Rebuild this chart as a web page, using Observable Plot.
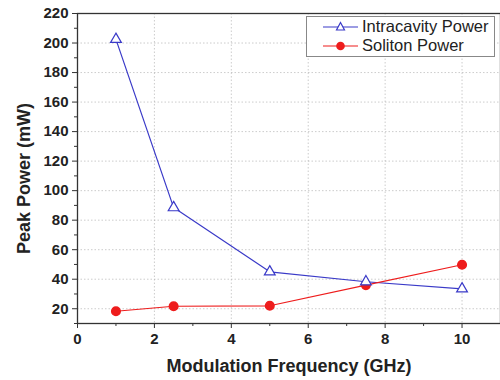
<!DOCTYPE html>
<html><head><meta charset="utf-8">
<script src="https://cdn.jsdelivr.net/npm/d3@7"></script>
<script src="https://cdn.jsdelivr.net/npm/@observablehq/plot@0.6"></script>
<style>
html,body{margin:0;padding:0;background:#fff;}
#wrap{position:relative;width:500px;height:380px;font-family:"Liberation Sans",Arial,sans-serif;}
#wrap svg [aria-label$="axis label"] text{font-size:18px;}
#legend{position:absolute;left:306px;top:16px;width:189px;height:41px;border:1px solid #888;background:#fff;box-sizing:border-box;font-size:16.5px;color:#222;}
#legend .row{display:flex;align-items:center;height:19px;padding-left:16px;}
#legend svg{margin-right:4px;}
</style></head>
<body><div id="wrap"><div id="legend"></div></div>
<script>
const freq = [1, 2.5, 5, 7.5, 10];
const intracavity = [202.5, 88.5, 45, 38.3, 33.5];
const soliton = [18.3, 21.7, 22, 36, 49.8];
const seriesNames = ["Intracavity Power", "Soliton Power"];
const xTicks = [0, 2, 4, 6, 8, 10];
const xMinor = [1, 3, 5, 7, 9];
const yTicks = [20, 40, 60, 80, 100, 120, 140, 160, 180, 200, 220];
const yMinor = [10, 30, 50, 70, 90, 110, 130, 150, 170, 190, 210];

const blue = "#3a3ac8", red = "#ee1c1c";
const dIntra = freq.map((x, i) => ({x, y: intracavity[i]}));
const dSol = freq.map((x, i) => ({x, y: soliton[i]}));

const chart = Plot.plot({
  width: 500, height: 380,
  marginLeft: 77, marginRight: 0, marginTop: 13, marginBottom: 57,
  style: {fontFamily: "'Liberation Sans', Arial, sans-serif", background: "white"},
  x: {domain: [0, 11]},
  y: {domain: [10, 220]},
  marks: [
    Plot.gridX(xTicks, {stroke: "#aaa", strokeOpacity: 0.6, strokeDasharray: "1.5,2"}),
    Plot.gridY(yTicks, {stroke: "#aaa", strokeOpacity: 0.6, strokeDasharray: "1.5,2"}),
    Plot.axisX(xMinor, {tickSize: 3, tickFormat: () => "", stroke: "#333", label: null}),
    Plot.axisY(yMinor, {tickSize: 3, tickFormat: () => "", stroke: "#333", label: null}),
    Plot.axisX(xTicks, {tickSize: 5, tickPadding: 5, fontSize: 15, fontWeight: "bold", stroke: "#333", fill: "#222",
      label: "Modulation Frequency (GHz)", labelAnchor: "center", labelArrow: "none", labelOffset: 48}),
    Plot.axisY(yTicks, {tickSize: 5, tickPadding: 4, fontSize: 15, fontWeight: "bold", stroke: "#333", fill: "#222",
      label: "Peak Power (mW)", labelAnchor: "center", labelArrow: "none", labelOffset: 60}),
    Plot.frame({stroke: "#333", strokeWidth: 1.3}),
    Plot.line(dIntra, {x: "x", y: "y", stroke: blue, strokeWidth: 1.2}),
    Plot.line(dSol, {x: "x", y: "y", stroke: red, strokeWidth: 1.2}),
    Plot.dot(dSol, {x: "x", y: "y", r: 4.3, fill: red, stroke: red, symbol: "circle"}),
    Plot.dot(dIntra, {x: "x", y: "y", r: 4, fill: "white", stroke: blue, strokeWidth: 1.2, symbol: "triangle"})
  ]
});
document.getElementById("wrap").prepend(chart);
const yl = chart.querySelector('[aria-label="y-axis label"] text');
if (yl) yl.setAttribute("dx", "-10");

const legend = document.getElementById("legend");
const sw = (c, kind) => kind === "tri"
  ? `<svg width="35" height="14"><line x1="0" y1="7" x2="35" y2="7" stroke="${c}" stroke-width="1.2"/><path d="M17.5,2.5 L21.5,10 L13.5,10 Z" fill="white" stroke="${c}" stroke-width="1.2"/></svg>`
  : `<svg width="35" height="14"><line x1="0" y1="7" x2="35" y2="7" stroke="${c}" stroke-width="1.2"/><circle cx="17.5" cy="7" r="4.3" fill="${c}"/></svg>`;
legend.innerHTML = `<div class="row">${sw(blue, "tri")}<span>${seriesNames[0]}</span></div>` +
  `<div class="row">${sw(red, "circ")}<span>${seriesNames[1]}</span></div>`;
</script></body></html>
